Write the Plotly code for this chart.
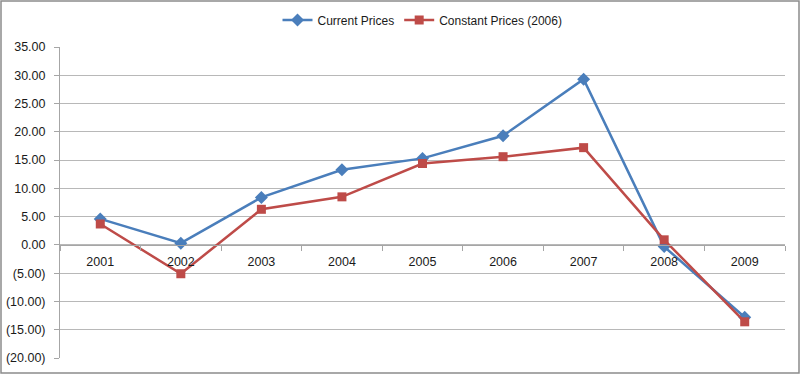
import plotly.graph_objects as go

years = ["2001", "2002", "2003", "2004", "2005", "2006", "2007", "2008", "2009"]
current_prices = [4.6, 0.3, 8.4, 13.3, 15.3, 19.3, 29.3, -0.3, -12.8]
constant_prices = [3.7, -5.1, 6.3, 8.5, 14.4, 15.6, 17.2, 0.9, -13.6]
y_tickvals = [35, 30, 25, 20, 15, 10, 5, 0, -5, -10, -15, -20]
y_ticktext = ["35.00", "30.00", "25.00", "20.00", "15.00", "10.00", "5.00", "0.00",
              "(5.00)", "(10.00)", "(15.00)", "(20.00)"]

W, H = 800, 374
ml, mr, mt, mb = 60, 15, 47, 16
ymin, ymax = -20, 35

fig = go.Figure()
fig.add_trace(go.Scatter(
    x=years, y=current_prices, name="Current Prices", mode="lines+markers",
    line=dict(color="#4A7EBB", width=2.5),
    marker=dict(symbol="diamond", size=10, color="#4A7EBB"),
))
fig.add_trace(go.Scatter(
    x=years, y=constant_prices, name="Constant Prices (2006)", mode="lines+markers",
    line=dict(color="#BE4B48", width=2.5),
    marker=dict(symbol="square", size=9, color="#BE4B48"),
))

pw = W - ml - mr
ph = H - mt - mb
fig.add_shape(type="rect", xref="paper", yref="paper",
              x0=-(ml - 1) / pw, x1=1 + (mr - 1) / pw,
              y0=-(mb - 1) / ph, y1=1 + (mt - 1) / ph,
              line=dict(color="#8C8C8C", width=1.5), fillcolor="rgba(0,0,0,0)", layer="below")

fig.update_layout(
    width=W, height=H,
    margin=dict(l=ml, r=mr, t=mt, b=mb, autoexpand=False),
    paper_bgcolor="white", plot_bgcolor="white",
    font=dict(family="Liberation Sans, Arial, sans-serif", size=12.5, color="#1A1A1A"),
    showlegend=True,
    legend=dict(orientation="h", x=0.5, xanchor="center", y=1 + 27 / ph, yanchor="middle",
                font=dict(size=12), itemwidth=30, tracegroupgap=0),
    xaxis=dict(
        type="category", range=[-0.5, len(years) - 0.5],
        anchor="free", position=(0 - ymin) / (ymax - ymin),
        showline=True, linecolor="#A6A6A6", linewidth=1,
        showgrid=False, zeroline=False,
        ticks="outside", tickson="boundaries", ticklen=5, tickcolor="#A6A6A6",
        ticklabelstandoff=5, tickfont=dict(size=12.5),
    ),
    yaxis=dict(
        range=[ymin, ymax], tickvals=y_tickvals, ticktext=y_ticktext,
        showline=True, linecolor="#A6A6A6", linewidth=1,
        showgrid=True, gridcolor="#B8B8B8", gridwidth=1, zeroline=False,
        ticks="outside", ticklen=5, tickcolor="#A6A6A6",
        ticklabelstandoff=6, tickfont=dict(size=12.5),
    ),
)

fig.write_html("out.html", config={"displayModeBar": False},
               post_script="document.body.style.margin='0';document.body.style.padding='0';")
